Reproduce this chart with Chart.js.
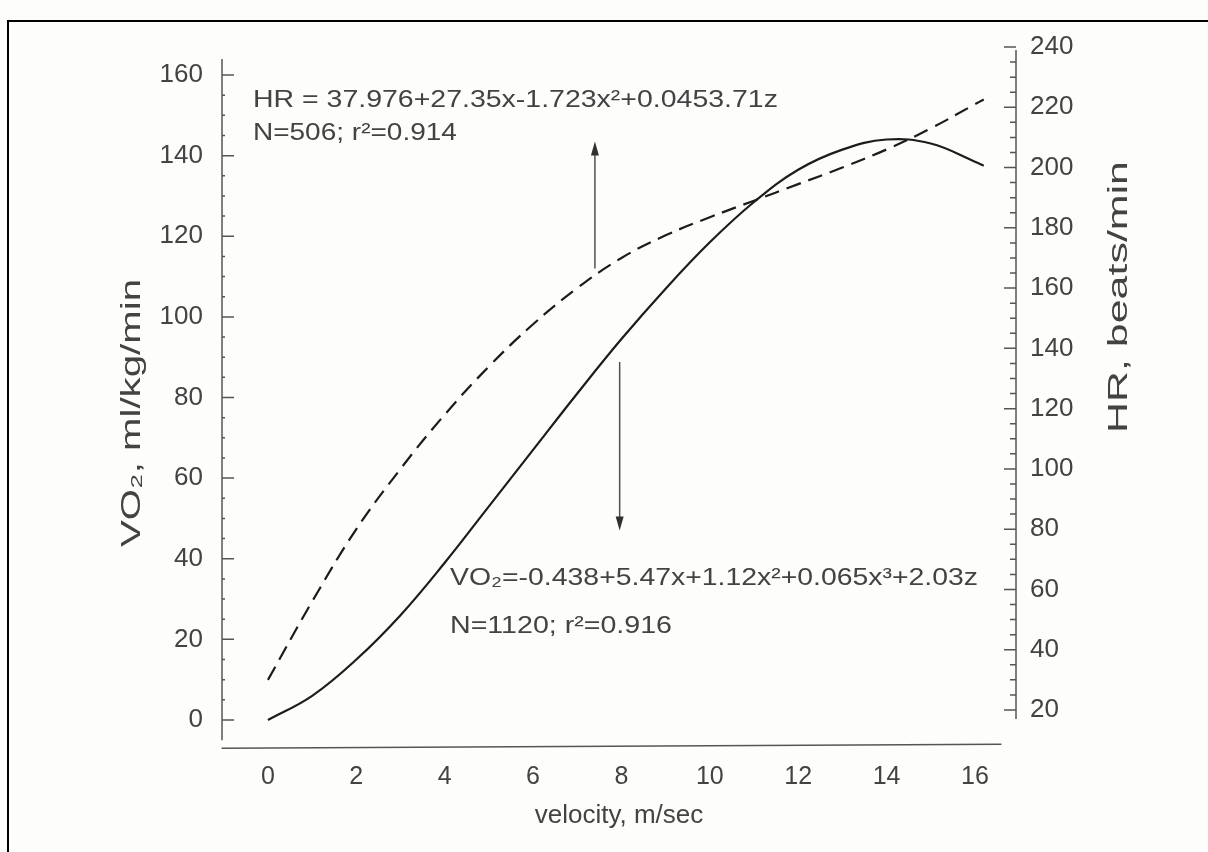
<!DOCTYPE html>
<html>
<head>
<meta charset="utf-8">
<script src="https://cdn.jsdelivr.net/npm/chart.js@4.4.1/dist/chart.umd.min.js"></script>
<style>
  html, body { margin: 0; padding: 0; background: #fdfefb; }
  #wrap { position: relative; width: 1208px; height: 852px; }
</style>
</head>
<body>
<div id="wrap"><canvas id="chart" width="1208" height="852"></canvas></div>
<script>
const velocity = [0, 1, 2, 3, 4, 5, 6, 7, 8, 9, 10, 11, 12, 13, 14, 15, 16, 16.2];
// VO2, ml/kg/min (solid, left axis)
const vo2 = [0, 6, 15, 26, 39, 53, 67, 81, 94.5, 107, 118.5, 128.5, 136.5, 141.5, 144, 143, 138.5, 137.5];
// HR, beats/min (dashed, right axis)
const hr = [30, 56, 80, 100, 118, 134, 148, 160, 170, 177.5, 183.5, 189, 194.5, 200, 206, 213, 221, 222.6];

const velocityTicks = [0, 2, 4, 6, 8, 10, 12, 14, 16];
const vo2Ticks = [0, 20, 40, 60, 80, 100, 120, 140, 160];
const hrTicks = [20, 40, 60, 80, 100, 120, 140, 160, 180, 200, 220, 240];

const TEXT = '#434343';
const FONT = '"Liberation Sans", Arial, sans-serif';

function fitText(ctx, text, x, y, width, size) {
    ctx.save();
    ctx.font = size + 'px ' + FONT;
    const w = ctx.measureText(text).width;
    ctx.translate(x, y);
    ctx.scale(width / w, 1);
    ctx.textAlign = 'left';
    ctx.textBaseline = 'middle';
    ctx.fillStyle = TEXT;
    ctx.fillText(text, 0, 0);
    ctx.restore();
}

function verticalText(ctx, text, cx, cy, length, size) {
    ctx.save();
    ctx.font = size + 'px ' + FONT;
    const w = ctx.measureText(text).width;
    ctx.translate(cx, cy);
    ctx.rotate(-Math.PI / 2);
    ctx.scale(length / w, 1);
    ctx.textAlign = 'center';
    ctx.textBaseline = 'middle';
    ctx.fillStyle = TEXT;
    ctx.fillText(text, 0, 0);
    ctx.restore();
}

function arrow(ctx, x, y0, y1) {
    const dir = y1 < y0 ? -1 : 1;
    ctx.save();
    ctx.strokeStyle = '#505050';
    ctx.fillStyle = '#303030';
    ctx.lineWidth = 1.5;
    ctx.beginPath();
    ctx.moveTo(x, y0);
    ctx.lineTo(x, y1 - dir * 10);
    ctx.stroke();
    ctx.beginPath();
    ctx.moveTo(x, y1);
    ctx.lineTo(x - 4, y1 - dir * 14);
    ctx.lineTo(x + 4, y1 - dir * 14);
    ctx.closePath();
    ctx.fill();
    ctx.restore();
}

const decor = {
    id: 'decor',
    beforeDraw(chart) {
        const ctx = chart.ctx;
        ctx.save();
        ctx.fillStyle = '#fdfefb';
        ctx.fillRect(0, 0, chart.width, chart.height);
        // scanned page frame (top and left edges only)
        ctx.fillStyle = '#000';
        ctx.fillRect(7, 20, chart.width - 7, 2);
        ctx.fillRect(7, 20, 2, chart.height - 20);
        ctx.restore();
    },
    afterDatasetsDraw(chart) {
        const ctx = chart.ctx;
        const x = chart.scales.x, yl = chart.scales.y, yr = chart.scales.y1;
        const left = chart.chartArea.left, right = chart.chartArea.right;
        ctx.save();
        ctx.strokeStyle = '#555';
        ctx.lineWidth = 1.5;
        // axis lines
        ctx.beginPath();
        ctx.moveTo(left, yl.getPixelForValue(-5));
        ctx.lineTo(left, yl.getPixelForValue(164));
        ctx.moveTo(right, yr.getPixelForValue(17));
        ctx.lineTo(right, yr.getPixelForValue(239));
        ctx.moveTo(x.getPixelForValue(-1.05), yl.getPixelForValue(-7));
        ctx.lineTo(x.getPixelForValue(16.6), yl.getPixelForValue(-6));
        ctx.stroke();
        // inward tick marks
        ctx.beginPath();
        for (let v = 0; v <= 160; v += 5) {
            const p = yl.getPixelForValue(v);
            ctx.moveTo(left, p);
            ctx.lineTo(left + (v % 20 === 0 ? 12 : 3), p);
        }
        for (let v = 20; v <= 240; v += 5) {
            const p = yr.getPixelForValue(v);
            ctx.moveTo(right, p);
            ctx.lineTo(right - (v % 20 === 0 ? 12 : 6), p);
        }
        ctx.stroke();
        ctx.restore();

        // regression annotations, anchored in data units
        fitText(ctx, 'HR = 37.976+27.35x-1.723x²+0.0453.71z',
            x.getPixelForValue(-0.34), yl.getPixelForValue(153.8), 525, 24);
        fitText(ctx, 'N=506; r²=0.914',
            x.getPixelForValue(-0.34), yl.getPixelForValue(145.6), 204, 24);
        fitText(ctx, 'VO₂=-0.438+5.47x+1.12x²+0.065x³+2.03z',
            x.getPixelForValue(4.12), yl.getPixelForValue(35.2), 528, 24);
        fitText(ctx, 'N=1120; r²=0.916',
            x.getPixelForValue(4.12), yl.getPixelForValue(23.1), 222, 24);

        arrow(ctx, x.getPixelForValue(7.4), yl.getPixelForValue(112), yl.getPixelForValue(143.5));
        arrow(ctx, x.getPixelForValue(7.96), yl.getPixelForValue(88.8), yl.getPixelForValue(47));

        // axis titles (stretched like the scanned original)
        verticalText(ctx, 'VO₂, ml/kg/min', 133, 413, 268, 27);
        verticalText(ctx, 'HR, beats/min', 1120, 297, 272, 27);
    }
};

function initChart() {
    const ctx = document.getElementById('chart').getContext('2d');
    new Chart(ctx, {
        type: 'line',
        data: {
            datasets: [
                {
                    label: 'VO2',
                    data: velocity.map((v, i) => ({ x: v, y: vo2[i] })),
                    yAxisID: 'y',
                    borderColor: '#1c1c1c',
                    borderWidth: 2.2,
                    pointRadius: 0,
                    tension: 0.4
                },
                {
                    label: 'HR',
                    data: velocity.map((v, i) => ({ x: v, y: hr[i] })),
                    yAxisID: 'y1',
                    borderColor: '#1c1c1c',
                    borderWidth: 2.2,
                    borderDash: [15, 8],
                    pointRadius: 0,
                    tension: 0.4
                }
            ]
        },
        options: {
            responsive: false,
            animation: false,
            devicePixelRatio: 1,
            layout: { padding: { top: 47, left: 0, right: 0, bottom: 0 } },
            plugins: {
                legend: { display: false },
                tooltip: { enabled: false }
            },
            scales: {
                x: {
                    type: 'linear',
                    min: -1.04,
                    max: 16.93,
                    grid: { display: false },
                    border: { display: false },
                    afterBuildTicks: s => { s.ticks = velocityTicks.map(v => ({ value: v })); },
                    afterFit: s => { s.height = 104; },
                    ticks: {
                        autoSkip: false,
                        maxRotation: 0,
                        padding: 6,
                        color: TEXT,
                        font: { family: FONT, size: 25 }
                    },
                    title: {
                        display: true,
                        text: 'velocity, m/sec',
                        color: TEXT,
                        font: { family: FONT, size: 26 },
                        padding: { top: 0, bottom: 21 }
                    }
                },
                y: {
                    type: 'linear',
                    position: 'left',
                    min: -6.95,
                    max: 166.95,
                    grid: { display: false },
                    border: { display: false },
                    afterBuildTicks: s => { s.ticks = vo2Ticks.map(v => ({ value: v })); },
                    afterFit: s => { s.width = 222; },
                    ticks: {
                        padding: 11,
                        color: TEXT,
                        font: { family: FONT, size: 26 }
                    }
                },
                y1: {
                    type: 'linear',
                    position: 'right',
                    min: 7.39,
                    max: 240,
                    grid: { display: false },
                    border: { display: false },
                    afterBuildTicks: s => { s.ticks = hrTicks.map(v => ({ value: v })); },
                    afterFit: s => { s.width = 192; },
                    ticks: {
                        padding: 6,
                        color: TEXT,
                        font: { family: FONT, size: 26 }
                    }
                }
            }
        },
        plugins: [decor]
    });
}

document.addEventListener('DOMContentLoaded', initChart);
</script>
</body>
</html>
